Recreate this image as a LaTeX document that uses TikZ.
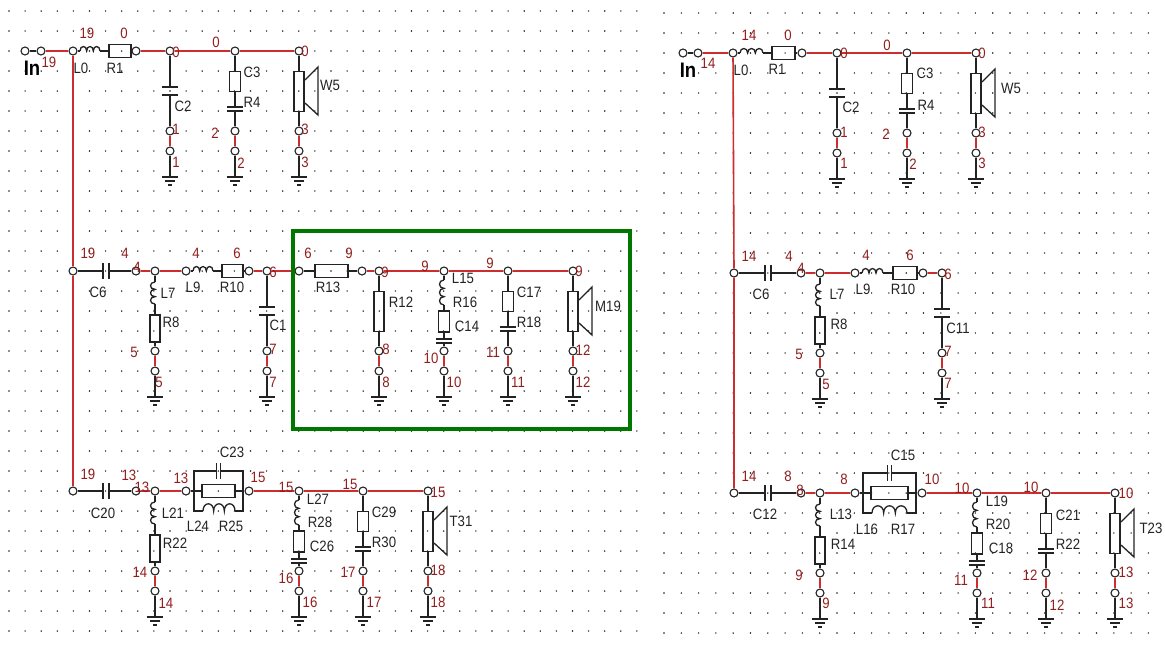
\documentclass[tikz,border=0pt]{standalone}
\usepackage{fontspec}
\newfontfamily\schemfont[FakeStretch=0.88]{Liberation Sans}
\definecolor{ink}{RGB}{35,35,35}
\definecolor{wirered}{RGB}{205,45,45}
\definecolor{netred}{RGB}{145,30,30}
\definecolor{boxgreen}{RGB}{0,120,0}
\tikzset{
    lead/.style={draw=ink,line width=1.3pt},
    wire/.style={draw=wirered,line width=1.6pt},
    term/.style={circle,draw=ink,fill=white,line width=1.1pt,minimum size=8pt,inner sep=0pt},
    resbox/.style n args={2}{rectangle,draw=ink,line width=1.3pt,inner sep=0pt,minimum width=#1pt,minimum height=#2pt},
    netlab/.style={text=netred,font=\schemfont\fontsize{15}{15}\selectfont,inner sep=0pt},
    partlab/.style={text=ink,font=\schemfont\fontsize{15}{15}\selectfont,inner sep=0pt},
    inlab/.style={text=black,font=\schemfont\bfseries\fontsize{21}{21}\selectfont,inner sep=0pt},
    vcap/.pic={
        \draw[lead] (-8,0) -- (8,0) (-8,#1) -- (8,#1);
        \coordinate (-a) at (0,0);
        \coordinate (-b) at (0,#1);
    },
    hcap/.pic={
        \draw[lead] (0,-8) -- (0,8) (#1,-8) -- (#1,8);
        \coordinate (-a) at (0,0);
        \coordinate (-b) at (#1,0);
    },
    coil/.pic={
        \draw[lead] (0,0) .. controls (0,-6) and (#1/3,-6) .. (#1/3,0)
            .. controls (#1/3,-6) and (2*#1/3,-6) .. (2*#1/3,0)
            .. controls (2*#1/3,-6) and (#1,-6) .. (#1,0);
        \coordinate (-a) at (0,0);
        \coordinate (-b) at (#1,0);
    },
    gnd/.pic={
        \draw[lead] (-8,0) -- (8,0) (-5,4) -- (5,4) (-2,8) -- (2,8);
        \coordinate (-top) at (0,0);
    },
    spk/.pic={
        \draw[lead] (6,29) -- (19,16) -- (19,64) -- (6,52);
    },
}
\newcommand{\leg}[3]{
    \node[term] (#1u) at (#2,#3+80) {};
    \node[term] (#1d) at (#2,#3+100) {};
    \pic (#1g) at (#2,#3+126) {gnd};
    \draw[wire] (#1u) -- (#1d);
    \draw[lead] (#1d) -- (#1g-top);
}
\newcommand{\capcol}[3]{
    \leg{#1}{#2}{#3}
    \pic (#1c) at (#2,#3+36) {vcap=8};
    \draw[lead] (#1t) -- (#1c-a) (#1c-b) -- (#1u);
}
\newcommand{\rccol}[3]{
    \leg{#1}{#2}{#3}
    \node[resbox={11}{20}] (#1r) at (#2,#3+30.5) {};
    \pic (#1c) at (#2,#3+56) {vcap=4};
    \draw[lead] (#1t) -- (#1r) (#1r) -- (#1c-a) (#1c-b) -- (#1u);
}
\newcommand{\rcol}[3]{
    \leg{#1}{#2}{#3}
    \node[resbox={10}{40}] (#1r) at (#2,#3+40.5) {};
    \draw[lead] (#1t) -- (#1r) (#1r) -- (#1u);
}
\newcommand{\spkcol}[3]{
    \rcol{#1}{#2}{#3}
    \pic at (#2,#3) {spk};
}
\newcommand{\lrccol}[3]{
    \leg{#1}{#2}{#3}
    \pic[rotate=-90,yscale=-1] (#1l) at (#2,#3+9) {coil=25};
    \node[resbox={11}{21}] (#1r) at (#2,#3+50.5) {};
    \pic (#1c) at (#2,#3+68) {vcap=4};
    \draw[lead] (#1t) -- (#1l-a) (#1l-b) -- (#1r) (#1r) -- (#1c-a) (#1c-b) -- (#1u);
}
\newcommand{\lrcol}[3]{
    \leg{#1}{#2}{#3}
    \pic[rotate=-90,yscale=-1] (#1l) at (#2,#3+11) {coil=22};
    \node[resbox={10}{27}] (#1r) at (#2,#3+57.5) {};
    \draw[lead] (#1t) -- (#1l-a) (#1l-b) -- (#1r) (#1r) -- (#1u);
}
\newcommand{\trap}[5]{
    \coordinate (#1w) at (#2,#4);
    \coordinate (#1e) at (#3,#4);
    \coordinate (#1nw) at (#2,#4-20);
    \coordinate (#1ne) at (#3,#4-20);
    \coordinate (#1sw) at (#2,#4+20);
    \coordinate (#1se) at (#3,#4+20);
    \node[resbox={#3-#2-16}{13}] (#1r) at ({(#2+#3)/2},#4) {};
    \pic (#1c) at ({(#2+#3)/2-2},#4-20) {hcap=4};
    \pic[yscale=1.6] (#1l) at (#2+9,#4+20) {coil=#5};
    \draw[lead] (#1w) -- (#1r) (#1r) -- (#1e);
    \draw[lead] (#1w) -- (#1nw) -- (#1c-a) (#1c-b) -- (#1ne) -- (#1e);
    \draw[lead] (#1w) -- (#1sw) -- (#1l-a) (#1l-b) -- (#1se) -- (#1e);
}
\begin{document}
\begin{tikzpicture}[x=1pt,y=-1pt]
    \useasboundingbox (0,0) rectangle (1165,649);
    \foreach \row in {0,...,31} {
        \foreach \col in {0,...,39}
            \fill[black!90] (9+16.1*\col,11+20*\row) circle (0.8pt);
        \foreach \col in {0,...,28}
            \fill[black!90] (664+17.3*\col,13+20*\row) circle (0.8pt);
    }

    \node[term] (ain) at (25,51) {};
    \node[term] (aout) at (41,51) {};
    \node[term] (atop) at (73,51) {};
    \pic (al) at (80,51) {coil=20};
    \node[resbox={22}{13}] (ar1) at (120,51) {};
    \node[term] (ar1e) at (136,51) {};
    \node[term] (a2t) at (170,51) {};
    \node[term] (a3t) at (235,51) {};
    \node[term] (a5t) at (299,51) {};
    \draw[lead] (ain) -- (aout);
    \draw[lead] (atop) -- (al-a) (al-b) -- (ar1) (ar1) -- (ar1e);
    \draw[wire] (aout) -- (atop);
    \draw[wire] (ar1e) -- (a2t) -- (a3t) -- (a5t);
    \capcol{a2}{170}{51}
    \rccol{a3}{235}{51}
    \spkcol{a5}{299}{51}

    \node[term] (amid) at (73,271) {};
    \pic (ac6) at (103,271) {hcap=6};
    \node[term] (ac6e) at (136,271) {};
    \node[term] (a7t) at (155,271) {};
    \node[term] (al9w) at (186,271) {};
    \pic (al9) at (193,271) {coil=20};
    \node[resbox={21}{13}] (ar10) at (232.5,271) {};
    \node[term] (ar10e) at (249,271) {};
    \node[term] (a11t) at (267,271) {};
    \node[term] (ar13w) at (299,271) {};
    \node[resbox={33}{13}] (ar13) at (331.5,271) {};
    \node[term] (ar13e) at (362,271) {};
    \node[term] (a12t) at (379,271) {};
    \node[term] (a15t) at (444,271) {};
    \node[term] (a17t) at (508,271) {};
    \node[term] (a19t) at (573,271) {};
    \draw[lead] (amid) -- (ac6-a) (ac6-b) -- (ac6e);
    \draw[lead] (al9w) -- (al9-a) (al9-b) -- (ar10) (ar10) -- (ar10e);
    \draw[lead] (ar13w) -- (ar13) (ar13) -- (ar13e);
    \draw[wire] (ac6e) -- (a7t) -- (al9w);
    \draw[wire] (ar10e) -- (a11t) -- (ar13w);
    \draw[wire] (ar13e) -- (a12t) -- (a15t) -- (a17t) -- (a19t);
    \lrcol{a7}{155}{271}
    \capcol{a11}{267}{271}
    \rcol{a12}{379}{271}
    \lrccol{a15}{444}{271}
    \rccol{a17}{508}{271}
    \spkcol{a19}{573}{271}

    \node[term] (abot) at (73,491) {};
    \pic (ac20) at (103,491) {hcap=6};
    \node[term] (ac20e) at (136,491) {};
    \node[term] (a21t) at (155,491) {};
    \node[term] (at1) at (186,491) {};
    \trap{atr}{194}{243}{491}{32}
    \node[term] (at2) at (249,491) {};
    \node[term] (a27t) at (299,491) {};
    \node[term] (a29t) at (363,491) {};
    \node[term] (a31t) at (428,491) {};
    \draw[lead] (abot) -- (ac20-a) (ac20-b) -- (ac20e);
    \draw[lead] (at1) -- (atrw) (atre) -- (at2);
    \draw[wire] (ac20e) -- (a21t) -- (at1);
    \draw[wire] (at2) -- (a27t) -- (a29t) -- (a31t);
    \lrcol{a21}{155}{491}
    \lrccol{a27}{299}{491}
    \rccol{a29}{363}{491}
    \spkcol{a31}{428}{491}
    \draw[wire] (atop) -- (amid) -- (abot);

    \node[term] (bin) at (683,53) {};
    \node[term] (bout) at (698,53) {};
    \node[term] (btop) at (733,53) {};
    \pic (bl) at (740,53) {coil=23};
    \node[resbox={23}{13}] (br1) at (783.5,53) {};
    \node[term] (br1e) at (802,53) {};
    \node[term] (b2t) at (837,53) {};
    \node[term] (b3t) at (907,53) {};
    \node[term] (b5t) at (976,53) {};
    \draw[lead] (bin) -- (bout);
    \draw[lead] (btop) -- (bl-a) (bl-b) -- (br1) (br1) -- (br1e);
    \draw[wire] (bout) -- (btop);
    \draw[wire] (br1e) -- (b2t) -- (b3t) -- (b5t);
    \capcol{b2}{837}{53}
    \rccol{b3}{907}{53}
    \spkcol{b5}{976}{53}

    \node[term] (bmid) at (734,273) {};
    \pic (bc6) at (765,273) {hcap=6};
    \node[term] (bc6e) at (801,273) {};
    \node[term] (b7t) at (820,273) {};
    \node[term] (bl9w) at (855,273) {};
    \pic (bl9) at (862,273) {coil=21};
    \node[resbox={24}{13}] (br10) at (905,273) {};
    \node[term] (br10e) at (923,273) {};
    \node[term] (b11t) at (942,273) {};
    \draw[lead] (bmid) -- (bc6-a) (bc6-b) -- (bc6e);
    \draw[lead] (bl9w) -- (bl9-a) (bl9-b) -- (br10) (br10) -- (br10e);
    \draw[wire] (bc6e) -- (b7t) -- (bl9w);
    \draw[wire] (br10e) -- (b11t);
    \lrcol{b7}{820}{273}
    \capcol{b11}{942}{273}

    \node[term] (bbot) at (734,493) {};
    \pic (bc12) at (765,493) {hcap=6};
    \node[term] (bc12e) at (801,493) {};
    \node[term] (b13t) at (820,493) {};
    \node[term] (bt1) at (855,493) {};
    \trap{btr}{863}{916}{493}{35}
    \node[term] (bt2) at (922,493) {};
    \node[term] (b19t) at (977,493) {};
    \node[term] (b21t) at (1046,493) {};
    \node[term] (b23t) at (1115,493) {};
    \draw[lead] (bbot) -- (bc12-a) (bc12-b) -- (bc12e);
    \draw[lead] (bt1) -- (btrw) (btre) -- (bt2);
    \draw[wire] (bc12e) -- (b13t) -- (bt1);
    \draw[wire] (bt2) -- (b19t) -- (b21t) -- (b23t);
    \lrcol{b13}{820}{493}
    \lrccol{b19}{977}{493}
    \rccol{b21}{1046}{493}
    \spkcol{b23}{1115}{493}
    \draw[wire] (btop) -- (bmid) -- (bbot);

    \draw[boxgreen,line width=4.5pt] (293,231) rectangle (630,429);

    \node[inlab] (ina) at (32,68) {In};
    \node[inlab] (inb) at (688,70) {In};
    \foreach \txt/\lx/\ly [count=\i] in {
        19/87/33, 0/124/33, 19/49/62, 0/176/52, 0/216/42, 0/305/51,
        1/176/129, 1/176/162, 2/215/133, 2/241/163, 3/305/129, 3/305/162,
        19/88/253, 4/125/253, 4/137/267, 4/196/253, 6/237/253, 6/273/272,
        5/134/352, 5/159/382, 7/273/349, 7/273/382,
        6/308/253, 9/349/253, 9/385/272, 9/425/266, 9/490/263, 9/579/271,
        8/386/349, 8/386/382, 10/431/358, 10/454/382, 11/493/352, 11/518/382,
        12/583/350, 12/583/382,
        19/88/474, 13/129/475, 13/142/487, 13/181/478, 15/258/477, 15/286/487,
        15/350/484, 15/438/492, 14/140/572, 14/166/603, 16/286/578, 16/310/602,
        17/348/572, 17/374/602, 18/438/570, 18/438/602,
        14/749/35, 0/788/35, 14/708/63, 0/844/53, 0/887/45, 0/982/53,
        1/844/132, 1/844/163, 2/886/134, 2/913/164, 3/982/132, 3/982/163,
        14/749/256, 4/789/256, 4/801/268, 4/866/255, 6/910/255, 6/948/274,
        5/799/354, 5/826/384, 7/948/351, 7/948/383,
        14/749/476, 8/788/476, 8/800/490, 8/844/479, 10/932/479, 10/962/488,
        10/1031/487, 10/1126/493, 9/799/575, 9/826/603, 11/961/580, 11/988/603,
        12/1030/575, 12/1057/605, 13/1126/572, 13/1126/603}
        \node[netlab] (net\i) at (\lx,\ly) {\txt};
    \foreach \txt/\lx/\ly [count=\i] in {
        L0/81/68, R1/115/68, C2/183/106, C3/252/72, R4/252/102, W5/330/85,
        C6/98/292, L7/168/293, L9/193/287, R10/232/287, R8/171/322, C1/278/325,
        R13/328/287, R12/401/302, L15/463/278, R16/465/302, C14/467/326,
        C17/529/292, R18/529/322, M19/608/306,
        C23/232/452, C20/103/513, L21/173/513, L24/198/526, R25/231/526,
        R22/175/543, L27/318/499, R28/320/522, C26/322/546, C29/384/512,
        R30/384/542, T31/461/521,
        L0/741/70, R1/777/69, C2/851/107, C3/925/73, R4/926/105, W5/1011/88,
        C6/761/294, L7/837/294, L9/863/289, R10/903/289, R8/839/324, C11/958/328,
        C15/903/455, C12/765/514, L13/841/514, L16/867/529, R17/903/529,
        R14/843/544, L19/997/501, R20/998/524, C18/1001/548, C21/1068/515,
        R22/1068/544, T23/1151/528}
        \node[partlab] (part\i) at (\lx,\ly) {\txt};
\end{tikzpicture}
\end{document}
